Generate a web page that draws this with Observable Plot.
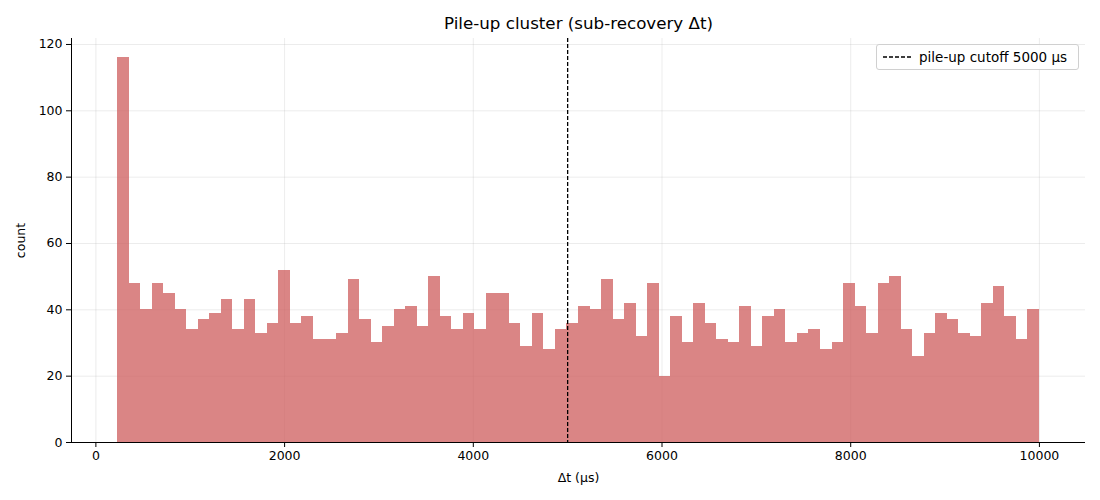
<!DOCTYPE html>
<html><head><meta charset="utf-8">
<script src="https://cdn.jsdelivr.net/npm/d3@7"></script>
<script src="https://cdn.jsdelivr.net/npm/@observablehq/plot@0.6"></script>
<style>
body{margin:0;background:#fff;font-family:"DejaVu Sans",sans-serif;}
#wrap{position:relative;width:1100px;height:500px;}
#legend{position:absolute;left:876px;top:44px;width:203px;height:26px;border:1px solid #d0d0d0;border-radius:3px;background:rgba(255,255,255,0.85);font-size:13.5px;display:flex;align-items:center;box-sizing:border-box;}
#legend svg{margin-left:6px;margin-right:8px;}
</style>
</head><body>
<div id="wrap"><div id="legend"><svg width="28" height="4"><line x1="0" y1="2" x2="28" y2="2" stroke="#000" stroke-width="1.3" stroke-dasharray="4,2"/></svg><span>pile-up cutoff 5000 µs</span></div></div>
<script>
const binStart = 230;
const binEnd = 10000;
const counts = [116,48,40,48,45,40,34,37,39,43,34,43,33,36,52,36,38,31,31,33,
  49,37,30,35,40,41,35,50,38,34,39,34,45,45,36,29,39,28,34,36,
  41,40,49,37,42,32,48,20,38,30,42,36,31,30,41,29,38,40,30,33,
  34,28,30,48,41,33,48,50,34,26,33,39,37,33,32,42,47,38,31,40];
const xTicks = [0,2000,4000,6000,8000,10000];
const yTicks = [0,20,40,60,80,100,120];
const cutoff = 5000;
const titleText = "Pile-up cluster (sub-recovery Δt)";

const bw = (binEnd - binStart) / counts.length;
const bins = counts.map((c, i) => ({x1: binStart + i * bw, x2: binStart + (i + 1) * bw, y: c}));
const pad = (binEnd - binStart) * 0.05;
const xDom = [binStart - pad, binEnd + pad];
const yDom = [0, d3.max(counts) * 1.05];

const chart = Plot.plot({
  width: 1100, height: 500,
  marginLeft: 71, marginRight: 15, marginTop: 38, marginBottom: 58,
  style: {fontFamily: "DejaVu Sans, sans-serif", fontSize: "12.5px", color: "#000", background: "#fff"},
  x: {domain: xDom},
  y: {domain: yDom},
  marks: [
    Plot.gridX(xTicks, {stroke: "#b0b0b0", strokeOpacity: 0.3, strokeWidth: 0.8}),
    Plot.gridY(yTicks, {stroke: "#b0b0b0", strokeOpacity: 0.3, strokeWidth: 0.8}),
    Plot.rectY(bins, {x1: "x1", x2: "x2", y: "y", fill: "#CD5C5C", fillOpacity: 0.75, inset: 0, shapeRendering: "crispEdges"}),
    Plot.ruleX([cutoff], {stroke: "#000", strokeWidth: 1.3, strokeDasharray: "4,2"}),
    Plot.ruleY([0], {stroke: "#000", strokeWidth: 1}),
    Plot.ruleX([xDom[0]], {stroke: "#000", strokeWidth: 1}),
    Plot.axisX({ticks: xTicks, tickSize: 5, tickPadding: 4, tickFormat: d => String(d), label: "Δt (µs)", labelAnchor: "center", labelArrow: "none", labelOffset: 39, fontSize: 12.5}),
    Plot.axisY({ticks: yTicks, tickSize: 5, tickPadding: 4, tickFormat: d => String(d), label: "count", labelAnchor: "center", labelArrow: "none", labelOffset: 55, fontSize: 12.5}),
    Plot.text([titleText], {frameAnchor: "top", lineAnchor: "middle", dy: -15, fontSize: 16.7, fill: "#000"})
  ]
});
document.getElementById("wrap").prepend(chart);
</script>
</body></html>
